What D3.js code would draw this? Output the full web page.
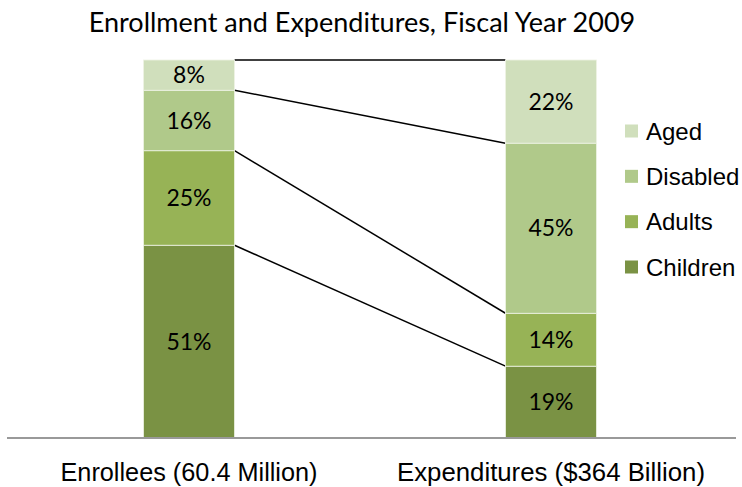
<!DOCTYPE html>
<html>
<head>
<meta charset="utf-8">
<script src="https://cdn.jsdelivr.net/npm/d3@7"></script>
<style>
  html, body { margin: 0; padding: 0; background: #fff; }
  svg { display: block; }
</style>
</head>
<body>
<svg id="chart" width="742" height="487"></svg>
<script>
// Share of enrollees and of spending by eligibility group
const groups = ["Children", "Adults", "Disabled", "Aged"];
const bars = ["Enrollees (60.4 Million)", "Expenditures ($364 Billion)"];
const enrollees = [51, 25, 16, 8];
const expenditures = [19, 14, 45, 22];
const colors = ["#7a9244", "#97b356", "#b0c98a", "#d0dfbc"];

const svg = d3.select("#chart");
const barW = 91;

const x = d3.scalePoint().domain(bars).range([8, 732]).padding(0.5);
const y = d3.scaleLinear().domain([0, 100]).range([438, 60]);
const color = d3.scaleOrdinal().domain(groups).range(colors);

// Build stacked segments for each bar
const rows = bars.map((b, i) => {
  const vals = i === 0 ? enrollees : expenditures;
  const r = { bar: b };
  groups.forEach((g, j) => r[g] = vals[j]);
  return r;
});
const stack = d3.stack().keys(groups)(rows);

// Title
svg.append("text")
  .attr("x", 362).attr("y", 32)
  .attr("text-anchor", "middle")
  .attr("font-family", "Lato, 'Open Sans', sans-serif")
  .attr("font-size", 27)
  .attr("fill", "#000")
  .text("Enrollment and Expenditures, Fiscal Year 2009");

// Connector lines between matching segment tops
const leftEdge = x(bars[1]) - barW / 2;
const rightEdge = x(bars[0]) + barW / 2;
stack.forEach(layer => {
  svg.append("line")
    .attr("x1", rightEdge).attr("y1", y(layer[0][1]))
    .attr("x2", leftEdge).attr("y2", y(layer[1][1]))
    .attr("stroke", "#000").attr("stroke-width", 1.5);
});

// Bars
const segs = svg.append("g");
stack.forEach(layer => {
  layer.forEach(d => {
    const cx = x(d.data.bar);
    segs.append("rect")
      .attr("x", cx - barW / 2)
      .attr("y", y(d[1]))
      .attr("width", barW)
      .attr("height", y(d[0]) - y(d[1]))
      .attr("fill", color(layer.key))
      .attr("stroke", "#eef3e4")
      .attr("stroke-width", 0.8);
    segs.append("text")
      .attr("x", cx)
      .attr("y", (y(d[0]) + y(d[1])) / 2)
      .attr("dy", "0.36em")
      .attr("text-anchor", "middle")
      .attr("font-family", "Lato, 'Open Sans', sans-serif")
      .attr("font-size", 23)
      .attr("fill", "#000")
      .text(d[1] - d[0] + "%");
  });
});

// Category axis
const labelWidths = [257, 308];
const axis = svg.append("g").attr("transform", `translate(0,${y(0)})`);
axis.append("line")
  .attr("x1", 7).attr("x2", 736)
  .attr("stroke", "#999").attr("stroke-width", 2);
axis.selectAll("text.cat").data(bars).join("text")
  .attr("class", "cat")
  .attr("x", d => x(d))
  .attr("y", 43)
  .attr("text-anchor", "middle")
  .attr("font-family", "'Liberation Sans', Arial, sans-serif")
  .attr("font-size", 25)
  .attr("textLength", (d, i) => labelWidths[i])
  .attr("lengthAdjust", "spacingAndGlyphs")
  .attr("fill", "#000")
  .text(d => d);

// Legend, top entry first
const legendY = d3.scalePoint().domain(groups.slice().reverse()).range([131, 267]);
const legend = svg.append("g");
groups.forEach(g => {
  legend.append("rect")
    .attr("x", 625).attr("y", legendY(g) - 6.5)
    .attr("width", 13).attr("height", 13)
    .attr("fill", color(g));
  legend.append("text")
    .attr("x", 646).attr("y", legendY(g))
    .attr("dy", "0.36em")
    .attr("font-family", "'Liberation Sans', Arial, sans-serif")
    .attr("font-size", 24)
    .attr("fill", "#000")
    .text(g);
});
</script>
</body>
</html>
